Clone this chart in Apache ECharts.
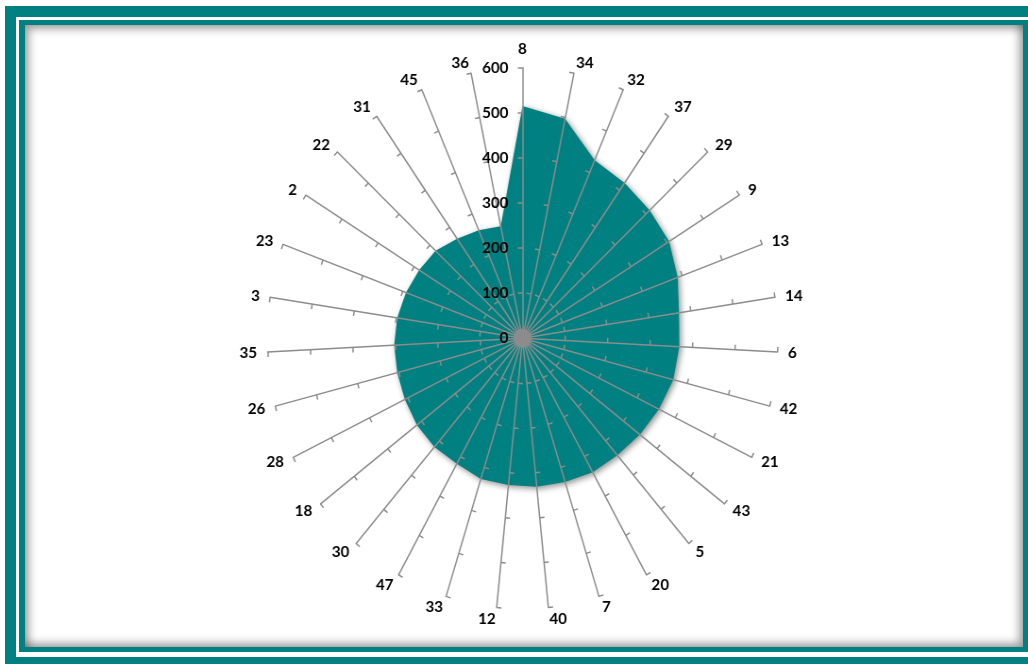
<!DOCTYPE html>
<html>
<head>
<meta charset="utf-8">
<script src="https://cdn.jsdelivr.net/npm/echarts@6/dist/echarts.min.js"></script>
<style>
  html, body { margin: 0; padding: 0; background: #ffffff; }
  #wrap { position: relative; width: 1028px; height: 664px; overflow: hidden; background: #ffffff; }
  .f { position: absolute; }
  #f1 { left: 5px; top: 6px; width: 1100px; height: 700px; background: #008080; }
  #f2 { left: 16px; top: 17px; width: 1100px; height: 640px; background: #ffffff; }
  #f3 { left: 19px; top: 20px; width: 1100px; height: 632px; background: #008080; }
  #f4 { left: 25px; top: 25px; width: 998px; height: 622px; background: #ffffff;
        box-shadow: inset 4px 4px 9px rgba(0,0,0,0.35), inset -4px -4px 9px rgba(0,0,0,0.35); }
  /* the reference picture is slightly narrower than tall: squeeze the chart horizontally */
  #chart { position: absolute; left: 0; top: 0; width: 1028px; height: 664px;
           transform: scaleX(0.944); transform-origin: 522.5px 0; }
</style>
</head>
<body>
<div id="wrap">
  <div class="f" id="f1"></div>
  <div class="f" id="f2"></div>
  <div class="f" id="f3"></div>
  <div class="f" id="f4"></div>
  <div id="chart"></div>
</div>
<script>
// ---- data (clockwise from top) ----
const categories = ['8','34','32','37','29','9','13','14','6','42','21','43','5','20','7','40','12','33','47','30','18','28','26','35','3','23','2','22','31','45','36'];
const values = [515,497,430,420,412,406,389,372,369,366,357,349,342,340,334,331,327,327,318,318,314,308,304,302,298,292,286,282,269,261,254];
const axisMin = 0;
const axisMax = 600;
const axisStep = 100;

// ECharts radar lays indicators counter-clockwise; reorder so they run clockwise
const order = [0];
for (let i = categories.length - 1; i >= 1; i--) order.push(i);

const font = 'Lato, "Open Sans", "DejaVu Sans", sans-serif';

const indicator = order.map(function (i, k) {
  const ind = { name: categories[i], min: axisMin, max: axisMax };
  if (k === 0) {
    ind.axisLabel = {
      show: true, color: '#000000', fontSize: 16, fontWeight: 'bold',
      fontFamily: font, margin: 15
    };
  }
  return ind;
});

const chart = echarts.init(document.getElementById('chart'), null, { renderer: 'canvas' });
chart.setOption({
  backgroundColor: 'transparent',
  animation: false,
  radar: {
    z: 5,
    center: [522.5, 338.3],
    radius: 270.5,
    startAngle: 90,
    splitNumber: (axisMax - axisMin) / axisStep,
    shape: 'polygon',
    indicator: indicator,
    axisName: { color: '#000000', fontSize: 16, fontWeight: 'bold', fontFamily: font },
    nameGap: 11,
    axisLine: { show: true, lineStyle: { color: '#8c8c8c', width: 1.5 } },
    axisTick: { show: true, length: 5, lineStyle: { color: '#8c8c8c', width: 1.5 } },
    axisLabel: { show: false },
    splitLine: { show: false },
    splitArea: { show: false }
  },
  series: [{
    type: 'radar',
    z: 1,
    symbol: 'none',
    lineStyle: { width: 0, color: '#008080' },
    areaStyle: {
      color: '#008080', opacity: 1,
      shadowBlur: 6, shadowColor: 'rgba(0,0,0,0.45)', shadowOffsetX: 2, shadowOffsetY: 2
    },
    data: [{ value: order.map(function (i) { return values[i]; }) }]
  }],
  graphic: [{
    type: 'circle', z: 10,
    shape: { cx: 522.5, cy: 338.3, r: 9.5 },
    style: { fill: '#8c8c8c' }
  }]
});
</script>
</body>
</html>
